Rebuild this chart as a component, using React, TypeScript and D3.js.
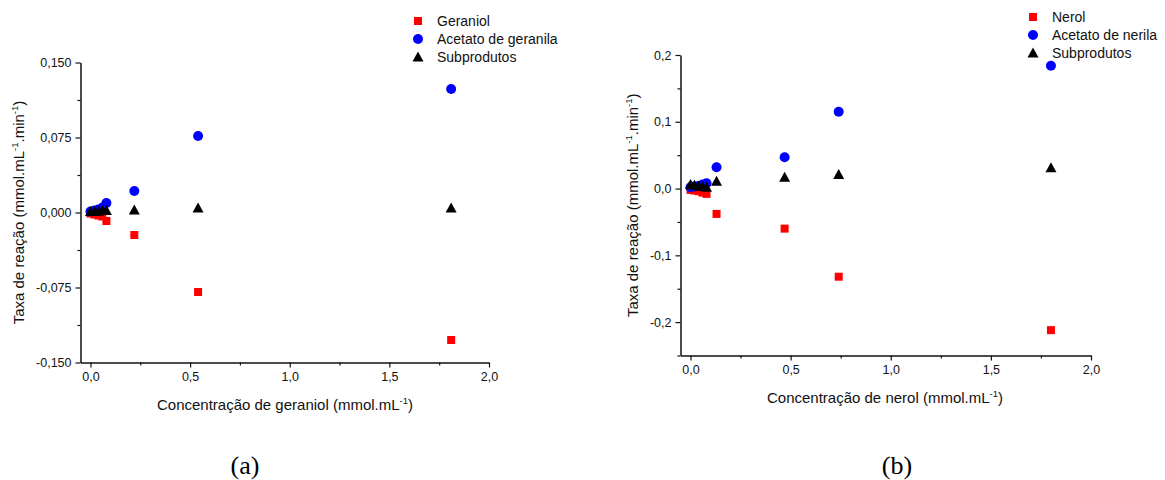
import { useEffect, useRef } from 'react'
import * as d3 from 'd3'

// ── data (x in mmol/mL, y in mmol/mL/min) ──
const geranConc = [0.0, 0.02, 0.04, 0.06, 0.08, 0.22, 0.54, 1.81]
const geraniol = [-0.001, -0.002, -0.003, -0.004, -0.0085, -0.0225, -0.0795, -0.1275]
const acetGeranila = [0.001, 0.002, 0.003, 0.005, 0.0095, 0.0215, 0.0765, 0.1235]
const subA = [0.001, 0.001, 0.0012, 0.002, 0.002, 0.0025, 0.0045, 0.0045]

const nerolConc = [0.0, 0.02, 0.04, 0.06, 0.08, 0.13, 0.47, 0.74, 1.8]
const nerol = [-0.002, -0.003, -0.004, -0.006, -0.008, -0.038, -0.06, -0.132, -0.212]
const acetNerila = [0.002, 0.003, 0.004, 0.006, 0.008, 0.032, 0.047, 0.115, 0.184]
const subB = [0.006, 0.005, 0.004, 0.003, 0.002, 0.011, 0.017, 0.021, 0.031]

const xTicks = [0, 0.5, 1, 1.5, 2]
const xMinor = [0.25, 0.75, 1.25, 1.75]
const yTicksA = [-0.15, -0.075, 0, 0.075, 0.15]
const yMinorA = [-0.1125, -0.0375, 0.0375, 0.1125]
const yTicksB = [-0.2, -0.1, 0, 0.1, 0.2]
const yMinorB = [-0.25, -0.15, -0.05, 0.05, 0.15]

const RED = '#ff0000'
const BLUE = '#0000ff'
const FONT = "'Liberation Sans', Arial, sans-serif"

const loc = d3.formatLocale({ decimal: ',', thousands: '.', grouping: [3], currency: ['', ''], minus: '-' })

type Panel = {
  left: number; right: number; top: number; bottom: number
  xDom: [number, number]; yDom: [number, number]
  yTicks: number[]; yMinor: number[]; yFmt: string
  x: number[]; series: { name: string; vals: number[]; shape: string; color: string }[]
  xTitle: string; yTitleX: number; xTitleY: number; xTitleX: number
  legX: number; legY: number; tag: string; tagX: number
}

const panels: Panel[] = [
  {
    left: 80.5, right: 489, top: 62.5, bottom: 362.5,
    xDom: [-0.05, 2.0], yDom: [-0.15, 0.15],
    yTicks: yTicksA, yMinor: yMinorA, yFmt: '.3f',
    x: geranConc,
    series: [
      { name: 'Geraniol', vals: geraniol, shape: 'square', color: RED },
      { name: 'Acetato de geranila', vals: acetGeranila, shape: 'circle', color: BLUE },
      { name: 'Subprodutos', vals: subA, shape: 'triangle', color: '#000' },
    ],
    xTitle: 'Concentração de geraniol (mmol.mL', xTitleX: 285, xTitleY: 410, yTitleX: 24,
    legX: 418, legY: 21, tag: '(a)', tagX: 245,
  },
  {
    left: 680.5, right: 1091, top: 55, bottom: 355.5,
    xDom: [-0.05, 2.0], yDom: [-0.25, 0.2],
    yTicks: yTicksB, yMinor: yMinorB, yFmt: '.1f',
    x: nerolConc,
    series: [
      { name: 'Nerol', vals: nerol, shape: 'square', color: RED },
      { name: 'Acetato de nerila', vals: acetNerila, shape: 'circle', color: BLUE },
      { name: 'Subprodutos', vals: subB, shape: 'triangle', color: '#000' },
    ],
    xTitle: 'Concentração de nerol (mmol.mL', xTitleX: 885, xTitleY: 403, yTitleX: 638,
    legX: 1033, legY: 17, tag: '(b)', tagX: 897,
  },
]

function drawMarker(g: d3.Selection<SVGGElement, unknown, null, undefined>, shape: string, color: string, cx: number, cy: number) {
  if (shape === 'square') {
    g.append('rect').attr('x', cx - 4).attr('y', cy - 4).attr('width', 8).attr('height', 8).attr('fill', color)
  } else if (shape === 'circle') {
    g.append('circle').attr('cx', cx).attr('cy', cy).attr('r', 5).attr('fill', color)
  } else {
    g.append('path').attr('d', `M${cx},${cy - 5.5}L${cx + 5.5},${cy + 4.5}L${cx - 5.5},${cy + 4.5}Z`).attr('fill', color)
  }
}

export default function App() {
  const svgRef = useRef<SVGSVGElement>(null)

  useEffect(() => {
    const svg = d3.select(svgRef.current)
    svg.selectAll('*').remove()

    for (const p of panels) {
      const x = d3.scaleLinear().domain(p.xDom).range([p.left, p.right])
      const y = d3.scaleLinear().domain(p.yDom).range([p.bottom, p.top])
      const g = svg.append('g')

      const styleAxis = (gg: any) => {
        gg.select('.domain').attr('stroke', '#111').attr('stroke-width', 1.5)
        gg.selectAll('.tick line').attr('stroke', '#111').attr('stroke-width', 1.2)
        gg.selectAll('.tick text').attr('fill', '#111').attr('font-size', '12.5px').attr('font-family', FONT)
      }

      // minor ticks first
      g.append('g').attr('transform', `translate(0,${p.bottom})`)
        .call(d3.axisBottom(x).tickValues(xMinor).tickSize(3).tickFormat(() => ''))
        .call(gg => { gg.select('.domain').remove(); gg.selectAll('.tick line').attr('stroke', '#111').attr('stroke-width', 1.2) })
      g.append('g').attr('transform', `translate(${p.left},0)`)
        .call(d3.axisLeft(y).tickValues(p.yMinor).tickSize(3).tickFormat(() => ''))
        .call(gg => { gg.select('.domain').remove(); gg.selectAll('.tick line').attr('stroke', '#111').attr('stroke-width', 1.2) })

      // major axes
      g.append('g').attr('transform', `translate(0,${p.bottom})`)
        .call(d3.axisBottom(x).tickValues(xTicks).tickSizeInner(5).tickSizeOuter(0).tickPadding(5).tickFormat(d => loc.format('.1f')(d as number)))
        .call(styleAxis)
      g.append('g').attr('transform', `translate(${p.left},0)`)
        .call(d3.axisLeft(y).tickValues(p.yTicks).tickSizeInner(5).tickSizeOuter(0).tickPadding(4).tickFormat(d => loc.format(p.yFmt)(d as number)))
        .call(styleAxis)

      // points
      p.series.forEach(s => {
        const mg = g.append('g')
        s.vals.forEach((v, i) => drawMarker(mg, s.shape, s.color, x(p.x[i]), y(v)))
      })

      // legend
      p.series.forEach((s, i) => {
        const ly = p.legY + i * 18
        drawMarker(g, s.shape, s.color, p.legX, ly)
        g.append('text').attr('x', p.legX + 19).attr('y', ly + 5)
          .attr('font-size', '14px').attr('font-family', FONT).attr('fill', '#111').text(s.name)
      })

      // x title
      const xt = g.append('text').attr('x', p.xTitleX).attr('y', p.xTitleY).attr('text-anchor', 'middle')
        .attr('font-size', '15px').attr('font-family', FONT).attr('fill', '#111')
      xt.append('tspan').text(p.xTitle)
      xt.append('tspan').attr('dy', -6).attr('font-size', '9.5px').text('-1')
      xt.append('tspan').attr('dy', 6).text(')')

      // y title
      const cy = (p.top + p.bottom) / 2
      const yt = g.append('text').attr('transform', `translate(${p.yTitleX},${cy}) rotate(-90)`).attr('text-anchor', 'middle')
        .attr('font-size', '15px').attr('font-family', FONT).attr('fill', '#111')
      yt.append('tspan').text('Taxa de reação (mmol.mL')
      yt.append('tspan').attr('dy', -6).attr('font-size', '9.5px').text('-1')
      yt.append('tspan').attr('dy', 6).text('.min')
      yt.append('tspan').attr('dy', -6).attr('font-size', '9.5px').text('-1')
      yt.append('tspan').attr('dy', 6).text(')')

      // panel tag
      g.append('text').attr('x', p.tagX).attr('y', 474).attr('text-anchor', 'middle')
        .attr('font-size', '26px').attr('font-family', "'Liberation Serif', 'Times New Roman', serif").attr('fill', '#000').text(p.tag)
    }
  }, [])

  return (
    <div style={{ position: 'absolute', left: 0, top: 0, width: 1165, height: 480, background: '#fff' }}>
      <svg ref={svgRef} width={1165} height={480} style={{ display: 'block' }} />
    </div>
  )
}
